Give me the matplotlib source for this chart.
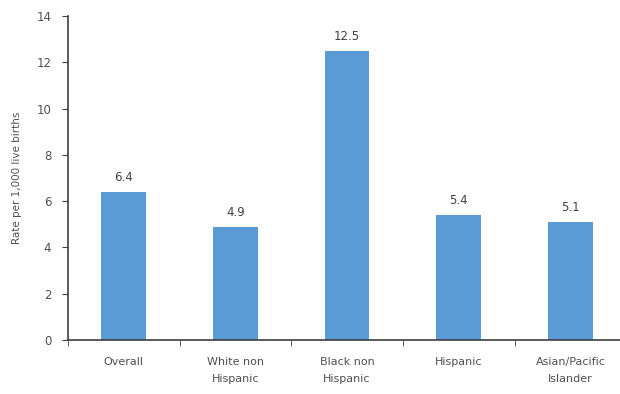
import numpy as np
import matplotlib.pyplot as plt

categories = ['Overall', 'White non\nHispanic', 'Black non\nHispanic', 'Hispanic', 'Asian/Pacific\nIslander']
rates = [6.4, 4.9, 12.5, 5.4, 5.1]
value_labels = ['6.4', '4.9', '12.5', '5.4', '5.1']

fig = plt.figure(figsize=(6.2, 3.94), dpi=100)
ax = fig.add_axes([68 / 620, 1 - 340 / 394, 1 - 68 / 620 + 0.01, (340 - 16) / 394])

x = np.arange(len(categories))
ax.bar(x, rates, width=0.4, color='#5B9BD5')
for xi, v, lab in zip(x, rates, value_labels):
    ax.text(xi, v + 0.35, lab, ha='center', va='bottom', fontsize=8.5, color='#404040')

ax.set_xlim(-0.5, len(categories) - 0.5)
ax.set_ylim(0, 14)
ax.set_yticks(range(0, 15, 2))
ax.set_xticks(x)
ax.set_xticklabels(categories, fontsize=8, color='#505050', linespacing=1.9)
ax.tick_params(axis='x', which='major', length=0, pad=12)
ax.set_xticks(np.arange(-0.5, len(categories), 1), minor=True)
ax.tick_params(axis='x', which='minor', length=4, direction='out', color='#404040')
ax.tick_params(axis='y', labelsize=8.5, labelcolor='#505050', length=4, color='#404040', pad=8)
ax.set_ylabel('Rate per 1,000 live births', fontsize=7.5, color='#505050', labelpad=10)

for side in ['top', 'right']:
    ax.spines[side].set_visible(False)
for side in ['left', 'bottom']:
    ax.spines[side].set_color('#404040')
    ax.spines[side].set_linewidth(1.2)

plt.savefig('out.png', dpi=100)
